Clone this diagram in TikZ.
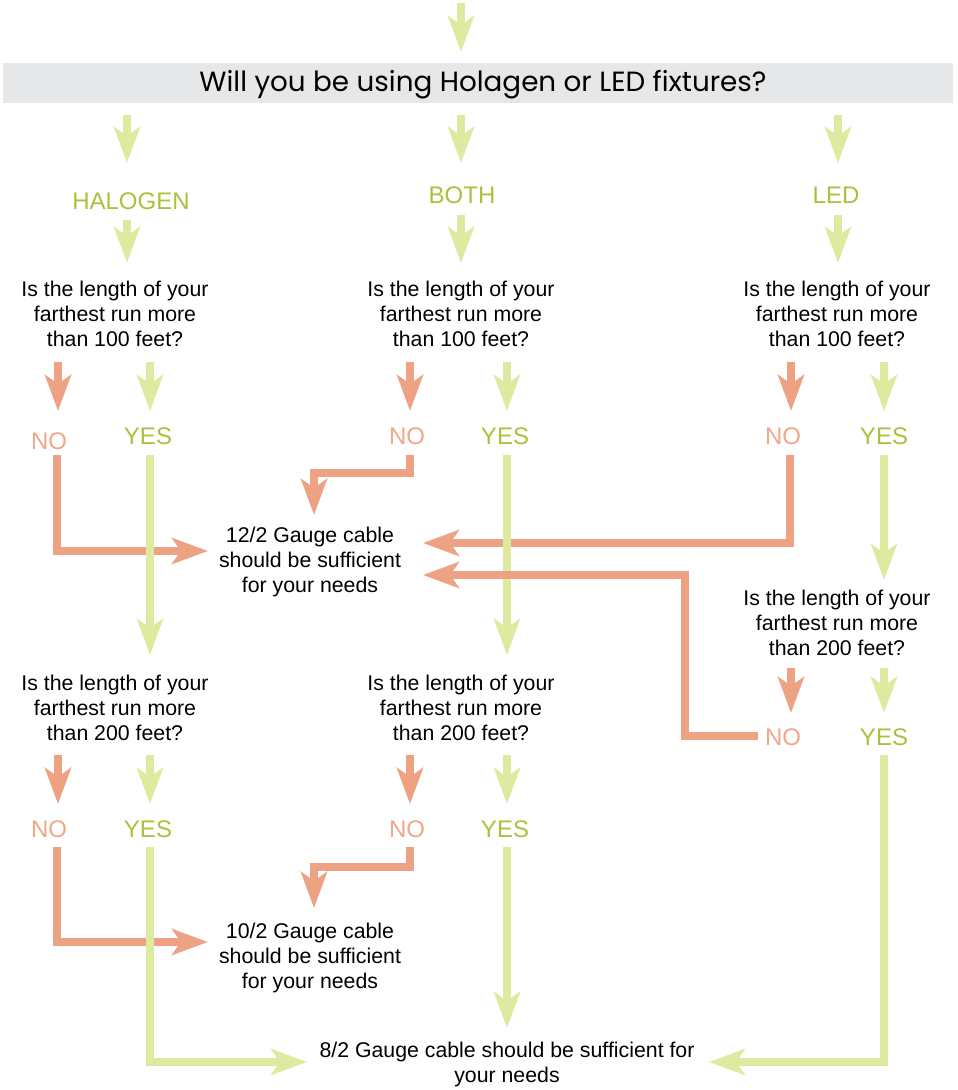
\documentclass[tikz,border=0pt]{standalone}
\usepackage{fontspec}
\setmainfont{Liberation Sans}
\newfontfamily\headfont{Poppins}
\usetikzlibrary{arrows.meta}
\definecolor{lgreen}{HTML}{DFEAA1}
\definecolor{tgreen}{HTML}{A8C23C}
\definecolor{lorange}{HTML}{EDA283}
\definecolor{torange}{HTML}{EFA789}
\definecolor{barg}{HTML}{E6E7E8}
\tikzset{
  tip/.style={-{Stealth[length=36pt,width=26pt,inset=9pt]}},
  gar/.style={draw=lgreen,line width=8pt,tip},
  oar/.style={draw=lorange,line width=8pt,tip},
  ques/.style={align=center,font=\fontsize{21.3}{25}\selectfont,inner sep=0pt},
  glab/.style={text=tgreen,font=\fontsize{24}{28}\selectfont,inner sep=0pt},
  olab/.style={text=torange,font=\fontsize{24}{28}\selectfont,inner sep=0pt},
}
\begin{document}
\begin{tikzpicture}[x=1pt,y=-1pt]
\useasboundingbox (0,0) rectangle (958,1090);
% header bar
\node[fill=barg,minimum width=950pt,minimum height=40pt,inner sep=0pt] (bar) at (478,83) {};
\node[font=\headfont\fontsize{27.8}{30}\selectfont,inner sep=0pt] (head) at (483,85) {Will you be using Holagen or LED fixtures?};
\coordinate (top0) at (461,3); \coordinate (top1) at (461,52);
\draw[gar] (top0) -- (top1);
% level 1
\node[glab] (hal) at (131,201) {HALOGEN};
\node[glab] (both) at (462,195) {BOTH};
\node[glab] (led) at (836,195) {LED};
\coordinate (b1) at (127,115); \coordinate (b1e) at (127,163);
\coordinate (b2) at (461,115); \coordinate (b2e) at (461,163);
\coordinate (b3) at (838,115); \coordinate (b3e) at (838,163);
\draw[gar] (b1) -- (b1e);
\draw[gar] (b2) -- (b2e);
\draw[gar] (b3) -- (b3e);
\coordinate (h1) at (127,220); \coordinate (h1e) at (127,263);
\coordinate (h2) at (461,215); \coordinate (h2e) at (461,263);
\coordinate (h3) at (838,215); \coordinate (h3e) at (838,263);
\draw[gar] (h1) -- (h1e);
\draw[gar] (h2) -- (h2e);
\draw[gar] (h3) -- (h3e);
% questions 100
\node[ques] (q1) at (115,314) {Is the length of your\\farthest run more\\than 100 feet?};
\node[ques] (q2) at (461,314) {Is the length of your\\farthest run more\\than 100 feet?};
\node[ques] (q3) at (837,314) {Is the length of your\\farthest run more\\than 100 feet?};
\foreach \x/\c in {58/oar,150/gar,410/oar,507/gar,791/oar,884/gar}{
  \draw[\c] (\x,362) -- (\x,411);
}
\node[olab] (n1) at (49,441) {NO};
\node[glab] (y1) at (148,436) {YES};
\node[olab] (n2) at (407,436) {NO};
\node[glab] (y2) at (505,436) {YES};
\node[olab] (n3) at (783,436) {NO};
\node[glab] (y3) at (884,436) {YES};
% results 12/2
\node[ques] (c12) at (310,562) {12/2 Gauge cable\\should be sufficient\\for your needs};
\coordinate (n1s) at (57,455); \coordinate (n1e) at (208,551);
\draw[oar] (n1s) |- (n1e);
\coordinate (y1s) at (150,455); \coordinate (y1e) at (150,655);
\draw[gar] (y1s) -- (y1e);
\coordinate (n2s) at (410,455); \coordinate (n2e) at (314,515);
\draw[oar] (n2s) -- (410,473) -| (n2e);
\coordinate (n3s) at (790,455); \coordinate (n3e) at (423,543);
\draw[oar] (n3s) |- (n3e);
\coordinate (y2s) at (507,455); \coordinate (y2e) at (507,655);
\draw[gar] (y2s) -- (y2e);
\coordinate (y3s) at (884,455); \coordinate (y3e) at (884,580);
\draw[gar] (y3s) -- (y3e);
% right question 200
\node[ques] (q6) at (837,623) {Is the length of your\\farthest run more\\than 200 feet?};
\draw[oar] (791,668) -- (791,713);
\draw[gar] (884,668) -- (884,713);
\node[olab] (n6) at (783,737) {NO};
\node[glab] (y6) at (884,737) {YES};
\coordinate (n6s) at (758,736); \coordinate (n6e) at (423,575);
\draw[oar] (n6s) -- (685,736) |- (n6e);
% questions 200
\node[ques] (q4) at (115,708) {Is the length of your\\farthest run more\\than 200 feet?};
\node[ques] (q5) at (461,708) {Is the length of your\\farthest run more\\than 200 feet?};
\foreach \x/\c in {58/oar,150/gar,410/oar,507/gar}{
  \draw[\c] (\x,755) -- (\x,804);
}
\node[olab] (n4) at (49,829) {NO};
\node[glab] (y4) at (148,829) {YES};
\node[olab] (n5) at (407,829) {NO};
\node[glab] (y5) at (505,829) {YES};
% results 10/2 and 8/2
\node[ques] (c10) at (310,958) {10/2 Gauge cable\\should be sufficient\\for your needs};
\node[ques] (c8) at (507,1064) {8/2 Gauge cable should be sufficient for\\your needs};
\coordinate (n4s) at (57,847); \coordinate (n4e) at (208,942);
\draw[oar] (n4s) |- (n4e);
\coordinate (y4s) at (150,847); \coordinate (y4e) at (307,1062);
\draw[gar] (y4s) |- (y4e);
\coordinate (n5s) at (410,847); \coordinate (n5e) at (314,908);
\draw[oar] (n5s) -- (410,867) -| (n5e);
\coordinate (y5s) at (507,847); \coordinate (y5e) at (507,1028);
\draw[gar] (y5s) -- (y5e);
\coordinate (y6s) at (884,755); \coordinate (y6e) at (709,1062);
\draw[gar] (y6s) |- (y6e);
\end{tikzpicture}
\end{document}
